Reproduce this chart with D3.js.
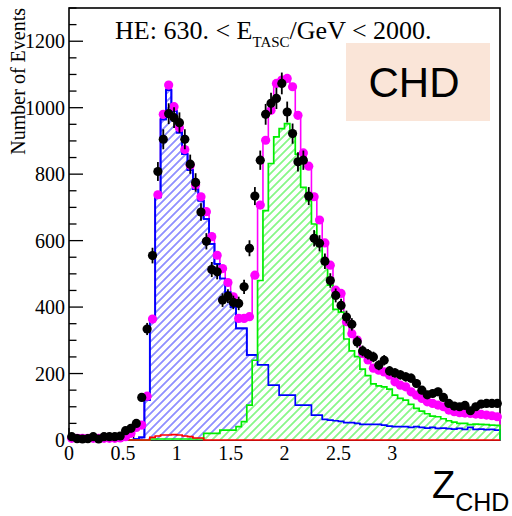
<!DOCTYPE html>
<html><head><meta charset="utf-8">
<script src="https://cdn.jsdelivr.net/npm/d3@7"></script>
<style>body{margin:0;background:#fff}svg{display:block}</style>
</head><body>
<svg id="c" width="512" height="516"></svg>
<script>
// ---- data (80 bins of width 0.05 from 0 to 4 in Z_CHD) ----
const binLow = 0, binWidth = 0.05;
const dataCounts = [10,4,3,4,10,3,10,10,10,12, 28,35,50,128,334,555,808,905,982,970,
  955,905,830,775,686,598,513,506,421,433, 414,411,461,577,734,842,980,1013,1028,1073,
  987,922,837,842,734,607,592,538,480,435, 405,370,348,295,268,258,250,225,240,208,
  202,196,190,186,170,150,136,140,145,128, 110,102,100,104,88,100,108,110,110,110];
const mcTotal = [5,5,5,5,5,5,5,5,5,6, 10,20,38,45,132,364,738,980,1068,1003,
  940,874,827,767,732,687,612,556,516,474, 431,366,366,371,496,707,902,992,1073,1083,
  1088,1063,977,864,824,732,662,593,526,451, 441,356,320,301,260,241,216,210,205,195,
  175,165,160,145,135,125,115,110,105,100, 90,85,82,81,80,78,77,75,73,70];
const mcZ1 = [0,0,0,0,0,0,0,0,0,0, 0,0,3,8,120,360,730,965,1053,990,
  925,860,812,755,720,665,590,530,486,444, 400,336,336,256,256,226,226,165,165,135,
  135,135,105,105,105,75,75,62,60,58, 56,52,52,50,47,47,47,47,45,42,
  40,40,40,38,40,38,36,38,35,36, 34,33,35,32,38,32,33,31,32,30];
const mcZ2 = [0,0,0,0,0,0,0,0,0,0, 0,0,0,0,0,3,3,3,3,3,
  3,3,3,3,3,20,20,20,30,30, 30,40,55,105,240,480,690,832,912,937,
  952,917,860,760,720,650,590,530,466,393, 385,304,268,251,213,194,169,163,160,153,
  135,125,120,107,95,87,79,72,70,64, 58,54,50,50,46,48,47,46,45,44];
const mcOther = [0,0,0,0,0,0,0,0,0,0, 0,0,0,0,0,8,12,15,15,16,
  15,12,10,6,6,0,0,0,0,0, 0,0,0,0,0,0,0,0,0,0,
  0,0,0,0,0,0,0,0,0,0, 0,0,0,0,0,0,0,0,0,0,
  0,0,0,0,0,0,0,0,0,0, 0,0,0,0,0,0,0,0,0,0];
const xTickValues = [0, 0.5, 1, 1.5, 2, 2.5, 3];
const xTickLabels = ["0", "0.5", "1", "1.5", "2", "2.5", "3"];
const yTickValues = [0, 200, 400, 600, 800, 1000, 1200];
const yTickLabels = ["0", "200", "400", "600", "800", "1000", "1200"];

const svg = d3.select("#c");
const x = d3.scaleLinear().domain([0, 4]).range([69, 500]);
const y = d3.scaleLinear().domain([0, 1300]).range([440, 8]);
const serif = "'Liberation Serif','Times New Roman',serif";
const sans = "'Liberation Sans',Arial,sans-serif";

// hatch patterns (same geometry so the green one lies over the blue one)
const defs = svg.append("defs");
function hatch(id, color, w) {
  const s = 5.657;
  const p = defs.append("pattern").attr("id", id).attr("patternUnits", "userSpaceOnUse")
    .attr("width", s).attr("height", 10).attr("patternTransform", "rotate(45)");
  p.append("rect").attr("width", s).attr("height", 10).attr("fill", "#fff");
  p.append("line").attr("x1", s / 2).attr("x2", s / 2).attr("y1", -1).attr("y2", 11)
    .attr("stroke", color).attr("stroke-width", w);
}
hatch("hBlue", "#0000ff", 0.85);
hatch("hGreen", "#00ee00", 0.9);

// axes: ticks inside
const axisG = svg.append("g");
const yMinor = d3.range(0, 1301, 50);
yMinor.forEach(v => {
  const major = v % 200 === 0;
  axisG.append("line").attr("x1", x(0)).attr("x2", x(0) + (major ? 14 : 7.5))
    .attr("y1", y(v)).attr("y2", y(v)).attr("stroke", "#000").attr("stroke-width", 1.3);
});
const xMinor = d3.range(0, 41).map(i => i / 10);
xMinor.forEach(v => {
  const major = Math.abs(v * 2 - Math.round(v * 2)) < 1e-6;
  axisG.append("line").attr("x1", x(v)).attr("x2", x(v))
    .attr("y1", y(0)).attr("y2", y(0) - (major ? 12 : 6)).attr("stroke", "#000").attr("stroke-width", 1.3);
});
axisG.append("rect").attr("x", x(0)).attr("y", y(1300)).attr("width", x(4) - x(0)).attr("height", y(0) - y(1300))
  .attr("fill", "none").attr("stroke", "#000").attr("stroke-width", 1.6);

yTickValues.forEach((v, i) => {
  svg.append("text").attr("x", 65).attr("y", y(v)).attr("dy", "0.35em").attr("text-anchor", "end")
    .attr("font-family", serif).attr("font-size", 20).text(yTickLabels[i]);
});
xTickValues.forEach((v, i) => {
  svg.append("text").attr("x", x(v)).attr("y", 459.5).attr("text-anchor", "middle")
    .attr("font-family", serif).attr("font-size", 20).text(xTickLabels[i]);
});
svg.append("text").attr("transform", "translate(25,8) rotate(-90)").attr("text-anchor", "end")
  .attr("font-family", serif).attr("font-size", 20).text("Number of Events");

// histogram helpers
function stepPath(vals, close) {
  const p = d3.path();
  p.moveTo(x(binLow), y(0));
  vals.forEach((v, i) => {
    p.lineTo(x(binLow + i * binWidth), y(v));
    p.lineTo(x(binLow + (i + 1) * binWidth), y(v));
  });
  p.lineTo(x(binLow + vals.length * binWidth), y(0));
  if (close) p.closePath();
  return p.toString();
}
const centers = dataCounts.map((d, i) => binLow + (i + 0.5) * binWidth);

// MC total step line
svg.append("path").attr("d", stepPath(mcTotal, false)).attr("fill", "none")
  .attr("stroke", "#ff00ff").attr("stroke-width", 1.6);
// Z=1 (blue hatched)
svg.append("path").attr("d", stepPath(mcZ1, true)).attr("fill", "url(#hBlue)");
svg.append("path").attr("d", stepPath(mcZ1, false)).attr("fill", "none").attr("stroke", "#0000ff").attr("stroke-width", 1.7);
// Z=2 (green hatched)
svg.append("path").attr("d", stepPath(mcZ2, true)).attr("fill", "url(#hGreen)");
// blue outline stays visible through the green hatch
svg.append("path").attr("d", stepPath(mcZ1, false)).attr("fill", "none").attr("stroke", "#0000ff").attr("stroke-width", 1.7);
svg.append("path").attr("d", stepPath(mcZ2, false)).attr("fill", "none").attr("stroke", "#00ee00").attr("stroke-width", 1.7);
// other (red)
svg.append("path").attr("d", stepPath(mcOther, false)).attr("fill", "none").attr("stroke", "#ff0000").attr("stroke-width", 1.7);

// MC total markers
svg.append("g").selectAll("circle").data(mcTotal).join("circle")
  .attr("cx", (d, i) => x(centers[i])).attr("cy", d => y(d)).attr("r", 4.6).attr("fill", "#ff00ff");

// data with error bars
const dg = svg.append("g");
dg.selectAll("line").data(dataCounts).join("line")
  .attr("x1", (d, i) => x(centers[i])).attr("x2", (d, i) => x(centers[i]))
  .attr("y1", d => y(d + Math.sqrt(d))).attr("y2", d => y(Math.max(0, d - Math.sqrt(d))))
  .attr("stroke", "#000").attr("stroke-width", 1.8);
dg.selectAll("circle").data(dataCounts).join("circle")
  .attr("cx", (d, i) => x(centers[i])).attr("cy", d => y(d)).attr("r", 4.6).attr("fill", "#000");

// title
const t = svg.append("text").attr("x", 115).attr("y", 38.5).attr("font-family", serif).attr("font-size", 26);
t.append("tspan").text("HE: 630. < E");
t.append("tspan").attr("font-size", 15).attr("dy", 8).text("TASC");
t.append("tspan").attr("dy", -8).text("/GeV < 2000.");

// CHD box
svg.append("rect").attr("x", 346).attr("y", 43).attr("width", 144).attr("height", 78).attr("fill", "#fae5d8");
svg.append("text").attr("x", 414).attr("y", 96.5).attr("text-anchor", "middle")
  .attr("font-family", sans).attr("font-size", 42).text("CHD");

// Z_CHD label
const z = svg.append("text").attr("x", 432).attr("y", 498).attr("font-family", sans).attr("font-size", 38);
z.append("tspan").text("Z");
z.append("tspan").attr("font-size", 25).attr("dy", 13).text("CHD");
</script>
</body></html>
